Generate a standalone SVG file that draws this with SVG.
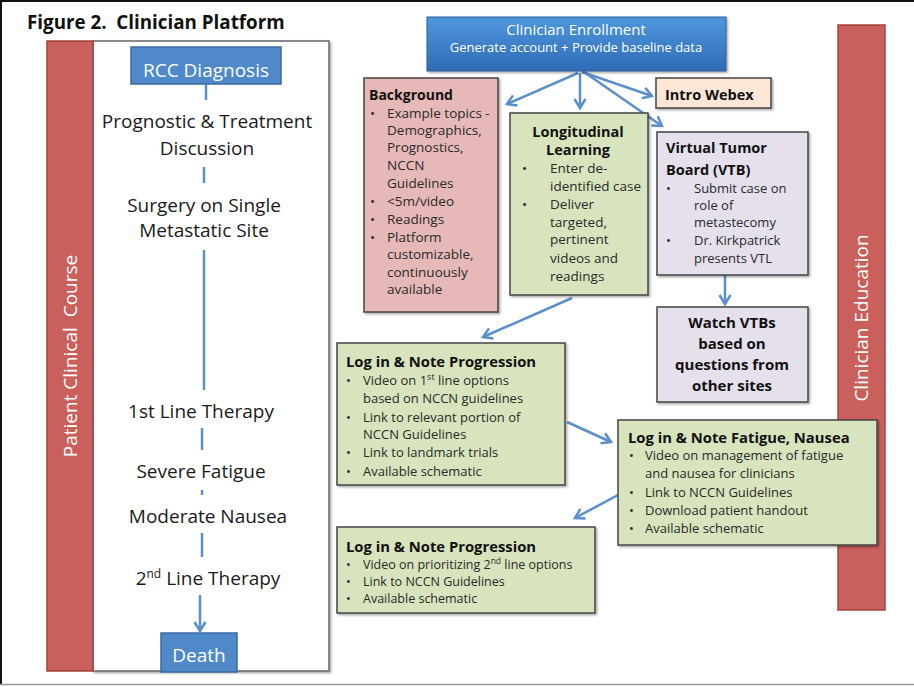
<svg xmlns="http://www.w3.org/2000/svg" width="914" height="687" viewBox="0 0 914 687">
<defs>
<style>
text{font-family:"Open Sans","Liberation Sans",sans-serif;}
.lt{font-size:19px;fill:#1a1a1a;text-anchor:middle;}
.wt{fill:#fff;}
.tt{font-weight:bold;fill:#111;}
.bd{fill:#2a2a2a;}
.bar{fill:#c9605b;stroke:#a5423e;stroke-width:1.5;}
.blue{fill:#5089c9;stroke:#3a6aa3;stroke-width:1.5;}
.box{stroke:#444;stroke-width:1.5;}
.tl{stroke:#5b8fcb;stroke-width:2.5;fill:none;}
.con{stroke:#5b8fcb;stroke-width:2.5;fill:none;marker-end:url(#arr);}
</style>
<marker id="arr" viewBox="0 0 14 14" refX="11" refY="7" markerWidth="14" markerHeight="14" orient="auto" markerUnits="userSpaceOnUse">
<path d="M2,1.5 L11,7 L2,12.5" fill="none" stroke="#5b8fcb" stroke-width="2.5"/>
</marker>
<linearGradient id="gEnr" x1="0" y1="0" x2="0" y2="1">
<stop offset="0" stop-color="#4f97dd"/>
<stop offset="1" stop-color="#2f6cb5"/>
</linearGradient>
<filter id="sh" x="-10%" y="-10%" width="125%" height="125%">
<feDropShadow dx="1.5" dy="1.5" stdDeviation="1.2" flood-color="#000" flood-opacity="0.35"/>
</filter>
</defs>
<rect x="0" y="0" width="914" height="687" fill="#fff"/>
<line x1="0" y1="1" x2="914" y2="1" stroke="#111" stroke-width="2"/>
<line x1="1" y1="0" x2="1" y2="685" stroke="#111" stroke-width="2"/>
<line x1="0" y1="684.5" x2="914" y2="684.5" stroke="#999" stroke-width="1.5"/>
<text x="27" y="29" font-size="18.8" font-weight="bold" fill="#111">Figure 2.&#160; Clinician Platform</text>

<g id="patient-course">
<rect x="93" y="41" width="236" height="630" fill="#fff" stroke="#666" stroke-width="1.5" filter="url(#sh)"/>
<rect class="bar" x="47" y="41" width="46" height="630"/>
<text class="wt" font-size="19" text-anchor="middle" transform="translate(77,356) rotate(-90)" xml:space="preserve">Patient Clinical  Course</text>
</g>

<g id="timeline">
<line class="tl" x1="206" y1="84" x2="206" y2="100"/>
<line class="tl" x1="204" y1="167" x2="204" y2="183"/>
<line class="tl" x1="204" y1="250" x2="204" y2="390"/>
<line class="tl" x1="202" y1="428" x2="202" y2="450"/>
<line class="tl" x1="202" y1="490" x2="202" y2="495"/>
<line class="tl" x1="202" y1="533" x2="202" y2="557"/>
<line class="con" x1="200" y1="595" x2="200" y2="631"/>
</g>

<g id="rcc">
<rect class="blue" x="131" y="47" width="150" height="37"/>
<text class="wt" x="206" y="77" font-size="19" text-anchor="middle">RCC Diagnosis</text>
</g>
<g id="prognostic"><text class="lt" x="207" y="128">Prognostic &amp; Treatment</text><text class="lt" x="207" y="155">Discussion</text></g>
<g id="surgery"><text class="lt" x="204" y="212">Surgery on Single</text><text class="lt" x="204" y="237">Metastatic Site</text></g>
<g id="first-line"><text class="lt" x="201" y="418">1st Line Therapy</text></g>
<g id="fatigue"><text class="lt" x="201" y="478">Severe Fatigue</text></g>
<g id="nausea"><text class="lt" x="208" y="523">Moderate Nausea</text></g>
<g id="second-line"><text class="lt" x="208" y="585">2<tspan font-size="12" dy="-7">nd</tspan><tspan dy="7"> Line Therapy</tspan></text></g>
<g id="death">
<rect class="blue" x="161" y="633" width="76" height="39"/>
<text class="wt" x="199" y="662" font-size="19" text-anchor="middle">Death</text>
</g>

<g id="clinician-education">
<rect class="bar" x="838" y="25" width="47" height="585"/>
<text class="wt" font-size="19" text-anchor="middle" transform="translate(868,318) rotate(-90)">Clinician Education</text>
</g>

<g id="connectors">
<line class="con" x1="578" y1="73" x2="507" y2="104"/>
<line class="con" x1="580" y1="73" x2="580" y2="108"/>
<line class="con" x1="582" y1="72" x2="652" y2="96"/>
<line class="con" x1="584" y1="72" x2="662" y2="126"/>
<line class="con" x1="725" y1="275" x2="725" y2="304"/>
<line class="con" x1="572" y1="298" x2="483" y2="337"/>
<line class="con" x1="567" y1="422" x2="611" y2="442"/>
<line class="con" x1="618" y1="495" x2="575" y2="518"/>
</g>

<g id="enrollment">
<rect x="427" y="17" width="299" height="54" fill="url(#gEnr)" stroke="#2c5d99" stroke-width="1" filter="url(#sh)"/>
<text class="wt" x="576" y="35" font-size="15" text-anchor="middle">Clinician Enrollment</text>
<text class="wt" x="576" y="52" font-size="13" text-anchor="middle">Generate account + Provide baseline data</text>
</g>

<g id="intro-webex">
<rect class="box" x="656" y="78" width="115" height="30" fill="#fce6d6" filter="url(#sh)"/>
<text class="tt" x="665" y="100" font-size="14.5">Intro Webex</text>
</g>

<g id="background">
<rect class="box" x="364" y="78" width="134" height="234" fill="#e6b9b8" filter="url(#sh)"/>
<text class="tt" x="369" y="100" font-size="14">Background</text>
<g class="bd" font-size="13.5">
<text x="370" y="118">•</text><text x="387" y="118">Example topics -</text>
<text x="387" y="135">Demographics,</text>
<text x="387" y="152">Prognostics,</text>
<text x="387" y="170">NCCN</text>
<text x="387" y="188">Guidelines</text>
<text x="370" y="206">•</text><text x="387" y="206">&lt;5m/video</text>
<text x="370" y="224">•</text><text x="387" y="224">Readings</text>
<text x="370" y="242">•</text><text x="387" y="242">Platform</text>
<text x="387" y="259">customizable,</text>
<text x="387" y="277">continuously</text>
<text x="387" y="294">available</text>
</g>
</g>

<g id="longitudinal">
<rect class="box" x="510" y="113" width="138" height="182" fill="#d7e4bd" filter="url(#sh)"/>
<text class="tt" x="578" y="137" font-size="14.5" text-anchor="middle">Longitudinal</text>
<text class="tt" x="578" y="155" font-size="14.5" text-anchor="middle">Learning</text>
<g class="bd" font-size="13.5">
<text x="522" y="173">•</text><text x="550" y="173">Enter de-</text>
<text x="550" y="191">identified case</text>
<text x="522" y="209">•</text><text x="550" y="209">Deliver</text>
<text x="550" y="227">targeted,</text>
<text x="550" y="244">pertinent</text>
<text x="550" y="263">videos and</text>
<text x="550" y="281">readings</text>
</g>
</g>

<g id="vtb">
<rect class="box" x="657" y="132" width="151" height="143" fill="#e5e0ec" filter="url(#sh)"/>
<text class="tt" x="666" y="153" font-size="14.5">Virtual Tumor</text>
<text class="tt" x="666" y="175" font-size="14.5">Board (VTB)</text>
<g class="bd" font-size="13">
<text x="666" y="193">•</text><text x="694" y="193">Submit case on</text>
<text x="694" y="210">role of</text>
<text x="694" y="227">metastecomy</text>
<text x="666" y="245">•</text><text x="694" y="245">Dr. Kirkpatrick</text>
<text x="694" y="263">presents VTL</text>
</g>
</g>

<g id="watch-vtbs">
<rect class="box" x="657" y="307" width="151" height="95" fill="#e5e0ec" filter="url(#sh)"/>
<g class="tt" font-size="15" text-anchor="middle">
<text x="732" y="328">Watch VTBs</text>
<text x="732" y="349">based on</text>
<text x="732" y="370">questions from</text>
<text x="732" y="391">other sites</text>
</g>
</g>

<g id="progression-1">
<rect class="box" x="337" y="343" width="228" height="142" fill="#d7e4bd" filter="url(#sh)"/>
<text class="tt" x="346" y="367" font-size="14.8">Log in &amp; Note Progression</text>
<g class="bd" font-size="13">
<text x="346" y="385">•</text><text x="363" y="385">Video on 1<tspan font-size="9" dy="-5">st</tspan><tspan dy="5"> line options</tspan></text>
<text x="363" y="403">based on NCCN guidelines</text>
<text x="346" y="422">•</text><text x="363" y="422">Link to relevant portion of</text>
<text x="363" y="439">NCCN Guidelines</text>
<text x="346" y="457">•</text><text x="363" y="457">Link to landmark trials</text>
<text x="346" y="476">•</text><text x="363" y="476">Available schematic</text>
</g>
</g>

<g id="fatigue-nausea">
<rect class="box" x="618" y="420" width="259" height="125" fill="#d7e4bd" filter="url(#sh)"/>
<text class="tt" x="628" y="443" font-size="14.8">Log in &amp; Note Fatigue, Nausea</text>
<g class="bd" font-size="13">
<text x="629" y="460">•</text><text x="645" y="460">Video on management of fatigue</text>
<text x="645" y="478">and nausea for clinicians</text>
<text x="629" y="497">•</text><text x="645" y="497">Link to NCCN Guidelines</text>
<text x="629" y="515">•</text><text x="645" y="515">Download patient handout</text>
<text x="629" y="533">•</text><text x="645" y="533">Available schematic</text>
</g>
</g>

<g id="progression-2">
<rect class="box" x="337" y="527" width="258" height="86" fill="#d7e4bd" filter="url(#sh)"/>
<text class="tt" x="346" y="552" font-size="14.8">Log in &amp; Note Progression</text>
<g class="bd" font-size="12.5">
<text x="346" y="569">•</text><text x="363" y="569">Video on prioritizing 2<tspan font-size="8.5" dy="-5">nd</tspan><tspan dy="5"> line options</tspan></text>
<text x="346" y="586">•</text><text x="363" y="586">Link to NCCN Guidelines</text>
<text x="346" y="603">•</text><text x="363" y="603">Available schematic</text>
</g>
</g>
</svg>
